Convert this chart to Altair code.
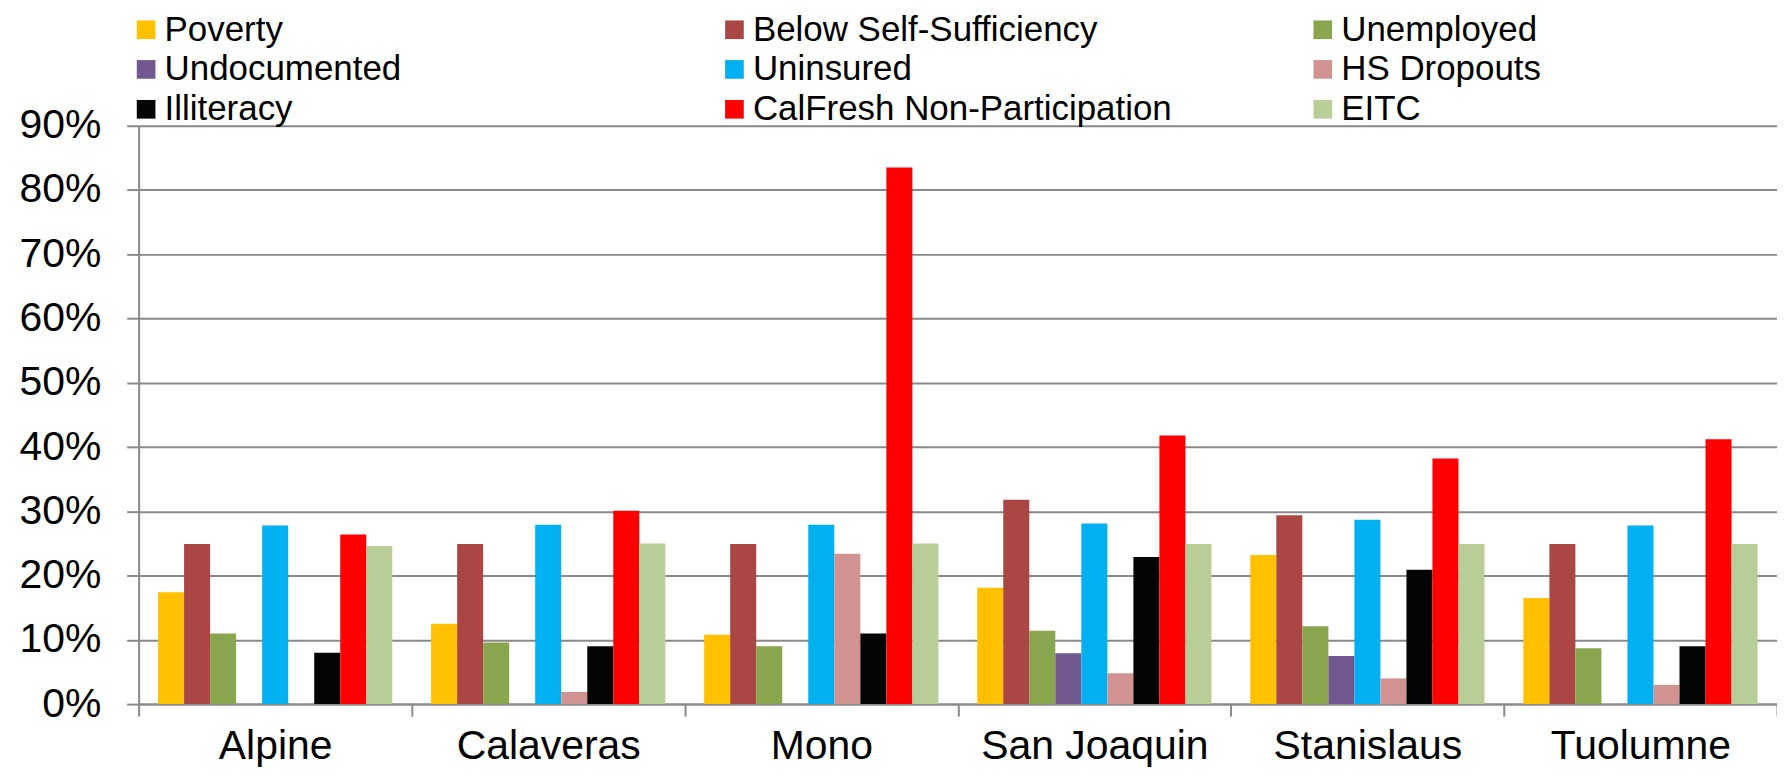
import altair as alt
import pandas as pd

counties = ["Alpine", "Calaveras", "Mono", "San Joaquin", "Stanislaus", "Tuolumne"]
series = ["Poverty", "Below Self-Sufficiency", "Unemployed", "Undocumented", "Uninsured",
          "HS Dropouts", "Illiteracy", "CalFresh Non-Participation", "EITC"]
colors = ["#FFC000", "#AA4643", "#89A54E", "#71588F", "#00B0F0",
          "#D19392", "#050505", "#FF0000", "#B9CD96"]

poverty = [17.4, 12.5, 10.8, 18.1, 23.2, 16.5]
below_ss = [24.9, 24.9, 24.9, 31.8, 29.4, 24.9]
unemployed = [11.0, 9.6, 9.0, 11.4, 12.1, 8.7]
undocumented = [0, 0, 0, 7.9, 7.5, 0]
uninsured = [27.8, 27.9, 27.9, 28.1, 28.7, 27.8]
hs_dropouts = [0, 1.9, 23.4, 4.8, 4.0, 3.0]
illiteracy = [8.0, 9.0, 11.0, 22.9, 20.9, 9.0]
calfresh = [26.4, 30.1, 83.5, 41.8, 38.2, 41.2]
eitc = [24.6, 25.0, 25.0, 24.9, 24.9, 24.9]

all_vals = [poverty, below_ss, unemployed, undocumented, uninsured,
            hs_dropouts, illiteracy, calfresh, eitc]
y_ticks = [i / 10 for i in range(10)]

rows = []
for s, vals in zip(series, all_vals):
    for c, v in zip(counties, vals):
        rows.append({"County": c, "Indicator": s, "Value": v / 100})
df = pd.DataFrame(rows)

FONT = "Liberation Sans"
GRID = "#898989"
W, H = 1643, 580
SUB_PAD = 0.746

chart = alt.Chart(df).mark_bar().encode(
    x=alt.X("County:N", sort=counties,
            scale=alt.Scale(paddingInner=0, paddingOuter=0),
            axis=alt.Axis(title=None, labelAngle=0, labelFontSize=41, labelFont=FONT,
                          labelColor="black", tickBand="extent", tickSize=12,
                          labelLimit=0,
                          tickColor=GRID, tickWidth=2, domainColor=GRID, domainWidth=2,
                          labelPadding=11, grid=False)),
    xOffset=alt.XOffset("Indicator:N", sort=series,
                        scale=alt.Scale(paddingInner=0, paddingOuter=SUB_PAD)),
    y=alt.Y("Value:Q", scale=alt.Scale(domain=[0, 0.9], nice=False),
            axis=alt.Axis(title=None, format=".0%", values=y_ticks, grid=True,
                          gridColor=GRID, gridWidth=2, domainColor=GRID, domainWidth=2,
                          tickColor=GRID, tickWidth=2, tickSize=12,
                          labelFontSize=41, labelFont=FONT, labelColor="black",
                          labelPadding=26)),
    color=alt.Color("Indicator:N", sort=series,
                    scale=alt.Scale(domain=series, range=colors),
                    legend=alt.Legend(title=None, orient="none", legendX=-10, legendY=-114,
                                      direction="horizontal",
                                      columns=3, gridAlign="all", columnPadding=133,
                                      rowPadding=4, symbolType="square", symbolSize=350,
                                      symbolStrokeWidth=0, labelOffset=1,
                                      labelFontSize=35, labelFont=FONT, labelColor="black",
                                      padding=0, labelLimit=600)),
).properties(
    width=W, height=H,
    autosize=alt.AutoSizeParams(type="none"),
    padding={"left": 131, "top": 117, "right": 0, "bottom": 64},
).configure_view(stroke=None)

chart.save("out.html", embed_options={"renderer": "svg", "actions": False})
